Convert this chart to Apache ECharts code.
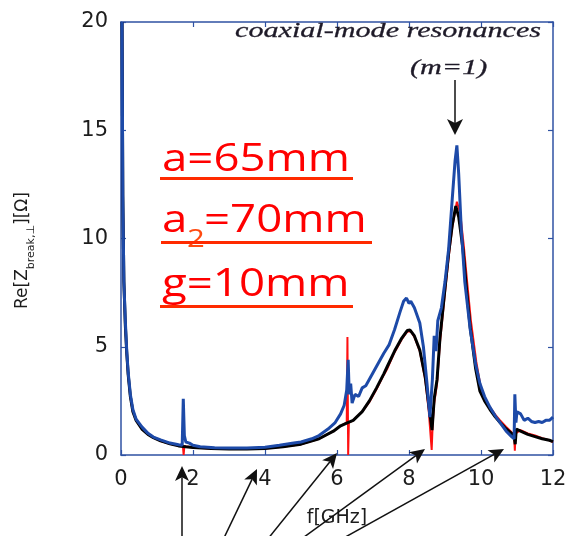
<!DOCTYPE html>
<html>
<head>
<meta charset="utf-8">
<script src="https://cdn.jsdelivr.net/npm/echarts@6/dist/echarts.min.js"></script>
<style>html,body{margin:0;padding:0;background:#fff}#c{width:565px;height:536px}</style>
</head>
<body>
<div id="c"></div>
<script>
// ---- data (f in GHz, Re[Z] in Ohm) ----
const blueF = [0.03,0.05,0.08,0.12,0.16,0.2,0.26,0.33,0.42,0.58,0.75,0.9,1.1,1.36,1.6,1.7,1.73,1.76,1.8,1.9,2.0,2.2,2.6,3.0,3.5,4.0,4.4,4.8,5.0,5.3,5.5,5.75,5.95,6.1,6.2,6.27,6.31,6.34,6.38,6.42,6.5,6.6,6.7,6.8,6.9,7.1,7.3,7.45,7.6,7.75,7.85,7.93,8.0,8.05,8.15,8.3,8.4,8.5,8.58,8.65,8.7,8.75,8.8,8.9,9.0,9.1,9.2,9.28,9.33,9.38,9.45,9.55,9.7,9.85,9.97,10.1,10.25,10.4,10.53,10.7,10.85,10.92,10.94,10.97,11.0,11.1,11.2,11.3,11.4,11.5,11.6,11.7,11.8,11.9,12.0];
const blueV = [20,12,8,6.2,4.8,3.8,2.8,2.1,1.65,1.3,1.0,0.83,0.7,0.55,0.47,0.45,2.6,0.9,0.6,0.55,0.45,0.38,0.34,0.32,0.32,0.36,0.45,0.55,0.6,0.75,0.9,1.2,1.5,1.9,2.3,3.0,4.4,2.8,3.3,2.4,2.8,2.7,3.1,3.2,3.5,4.1,4.7,5.1,5.8,6.6,7.1,7.25,7.0,7.1,6.8,6.1,5.0,3.3,1.75,3.5,5.5,4.8,6.2,6.8,8.0,9.5,11.8,13.6,14.3,13.0,10.5,8.0,5.8,4.2,3.3,2.7,2.2,1.8,1.5,1.1,0.85,0.75,2.8,1.5,2.0,1.9,1.6,1.7,1.55,1.5,1.55,1.5,1.6,1.6,1.75];

const blackF = [0.03,0.05,0.08,0.12,0.16,0.2,0.26,0.33,0.42,0.58,0.75,0.9,1.1,1.36,1.6,1.8,2.0,2.5,3.0,3.5,4.0,4.5,5.0,5.5,5.9,6.1,6.3,6.45,6.7,6.9,7.1,7.3,7.4,7.6,7.8,7.95,8.03,8.15,8.3,8.45,8.55,8.64,8.7,8.78,8.86,9.0,9.1,9.2,9.3,9.38,9.5,9.6,9.7,9.85,9.97,10.1,10.25,10.4,10.53,10.7,10.85,10.92,10.95,10.98,11.1,11.3,11.5,11.7,11.9,12.0];
const blackV = [20,12,8,6,4.7,3.7,2.7,2.0,1.6,1.2,0.95,0.8,0.65,0.52,0.42,0.38,0.35,0.3,0.28,0.28,0.3,0.38,0.5,0.75,1.1,1.35,1.5,1.6,2.0,2.5,3.1,3.75,4.1,4.8,5.4,5.75,5.77,5.5,4.85,3.6,2.3,1.15,2.6,3.5,5.4,7.7,9.3,10.6,11.5,11.0,9.5,7.6,5.9,4.0,2.95,2.5,2.1,1.75,1.5,1.2,1.0,0.85,0.5,1.2,1.1,0.95,0.85,0.75,0.68,0.62];

const redF = [0.03,0.05,0.08,0.12,0.16,0.2,0.26,0.33,0.42,0.58,0.75,0.9,1.1,1.36,1.6,1.72,1.74,1.76,2.0,2.5,3.0,3.5,4.0,4.5,5.0,5.5,5.9,6.1,6.27,6.29,6.31,6.33,6.45,6.7,6.9,7.1,7.3,7.4,7.6,7.8,7.95,8.05,8.15,8.3,8.45,8.55,8.63,8.66,8.7,8.78,8.86,9.0,9.1,9.2,9.33,9.42,9.52,9.62,9.72,9.87,9.99,10.1,10.25,10.4,10.53,10.7,10.85,10.92,10.94,10.96,11.1,11.3,11.5,11.7,11.9,12.0];
const redV = [20,12,8,6,4.7,3.7,2.7,2.0,1.6,1.2,0.95,0.8,0.65,0.52,0.43,0.4,0.0,0.4,0.35,0.3,0.28,0.28,0.3,0.38,0.5,0.75,1.1,1.35,1.5,5.45,0.0,1.5,1.6,2.0,2.45,3.05,3.7,4.0,4.75,5.35,5.7,5.72,5.45,4.8,3.5,2.0,0.23,1.5,2.4,3.3,5.2,7.5,9.1,10.5,11.7,11.2,9.7,7.9,6.2,4.3,3.15,2.6,2.2,1.85,1.6,1.3,1.05,0.95,0.2,1.0,1.15,1.0,0.9,0.78,0.68,0.6];

const xRange = [0, 12, 2];
const yRange = [0, 20, 5];
const xTitle = 'f[GHz]';
const annotations = ['coaxial-mode resonances', '(m=1)'];

const zip = (a, b) => a.map((v, i) => [v, b[i]]);

const chart = echarts.init(document.getElementById('c'), null, {renderer: 'canvas'});
const axisColor = '#2f52a3';
const labelFont = 'DejaVu Sans';

function arrow(x1, y1, x2, y2, head, half) {
  const dx = x2 - x1, dy = y2 - y1, L = Math.hypot(dx, dy);
  const ux = dx / L, uy = dy / L, nx = -uy, ny = ux;
  const bx = x2 - ux * head, by = y2 - uy * head;
  const kx = x2 - ux * head * 0.75, ky = y2 - uy * head * 0.75;
  return [
    {type: 'line', shape: {x1, y1, x2: kx, y2: ky}, style: {stroke: '#111', lineWidth: 1.5}, z: 100},
    {type: 'polygon', shape: {points: [[x2, y2], [bx + nx * half, by + ny * half], [kx, ky], [bx - nx * half, by - ny * half]]}, style: {fill: '#111'}, z: 100}
  ];
}

const red = '#ff0000';
const redU = '#ff2a00';
const redFont = 'Open Sans';
const rfs = 38;
const serif = 'italic 22px "Liberation Serif"';
const graphics = [
  {type: 'text', x: 235, y: 31, scaleX: 1.37, z: 100, style: {text: annotations[0], font: serif, fill: '#1e1a28', stroke: '#1e1a28', lineWidth: 0.3, verticalAlign: 'middle', align: 'left'}},
  {type: 'text', x: 410, y: 68, scaleX: 1.37, z: 100, style: {text: annotations[1], font: serif, fill: '#1e1a28', stroke: '#1e1a28', lineWidth: 0.3, verticalAlign: 'middle', align: 'left'}},
  ...arrow(455, 80, 455, 135, 16, 8),
  ...arrow(182, 540, 182, 466, 15, 7),
  ...arrow(223, 540, 257, 469, 15, 7),
  ...arrow(267, 540, 337, 453, 15, 7),
  ...arrow(300, 540, 425, 449, 15, 7),
  ...arrow(340, 540, 504, 449, 15, 7),
  // red parameter labels
  {type: 'text', x: 162, y: 160, scaleX: 1.2, z: 100, style: {text: 'a=65mm', font: rfs + 'px "' + redFont + '"', fill: red, verticalAlign: 'middle'}},
  {type: 'rect', shape: {x: 160, y: 177, width: 193, height: 3}, style: {fill: redU}, z: 100},
  {type: 'text', x: 162, y: 221, scaleX: 1.2, z: 100, style: {text: 'a', font: rfs + 'px "' + redFont + '"', fill: red, verticalAlign: 'middle'}},
  {type: 'text', x: 187, y: 240, scaleX: 1.2, z: 100, style: {text: '2', font: '26px "' + redFont + '"', fill: '#ff4a10', verticalAlign: 'middle'}},
  {type: 'text', x: 204, y: 221, scaleX: 1.2, z: 100, style: {text: '=70mm', font: rfs + 'px "' + redFont + '"', fill: red, verticalAlign: 'middle'}},
  {type: 'rect', shape: {x: 161, y: 241, width: 211, height: 3}, style: {fill: redU}, z: 100},
  {type: 'text', x: 162, y: 285, scaleX: 1.2, z: 100, style: {text: 'g=10mm', font: rfs + 'px "' + redFont + '"', fill: red, verticalAlign: 'middle'}},
  {type: 'rect', shape: {x: 160, y: 305, width: 193, height: 3}, style: {fill: redU}, z: 100}
];

const axisCommon = {
  axisLine: {show: true, onZero: false, lineStyle: {color: axisColor, width: 1.5}},
  axisTick: {show: true, inside: true, length: 5, lineStyle: {color: axisColor, width: 1.2}},
  splitLine: {show: false}
};

chart.setOption({
  animation: false,
  backgroundColor: '#fff',
  grid: {left: 121, top: 22, right: 12, bottom: 81, containLabel: false, outerBoundsMode: 'none'},
  xAxis: [
    Object.assign({}, axisCommon, {type: 'value', position: 'bottom', min: xRange[0], max: xRange[1], interval: xRange[2],
      axisLabel: {show: true, margin: 14, color: '#1c1c1c', fontSize: 21, fontFamily: labelFont},
      name: xTitle, nameLocation: 'middle', nameGap: 54, nameTextStyle: {color: '#1c1c1c', fontSize: 19, fontFamily: labelFont}}),
    Object.assign({}, axisCommon, {type: 'value', position: 'top', min: xRange[0], max: xRange[1], interval: xRange[2], axisLabel: {show: false}})
  ],
  yAxis: [
    Object.assign({}, axisCommon, {type: 'value', position: 'left', min: yRange[0], max: yRange[1], interval: yRange[2],
      axisLabel: {show: true, margin: 13, color: '#1c1c1c', fontSize: 21, fontFamily: labelFont},
      name: '{n|Re[Z}{s|break,⊥}{n|][Ω]}', nameLocation: 'middle', nameRotate: 90, nameGap: 84,
      nameTextStyle: {padding: [0, 24, 0, 0], rich: {
        n: {fontSize: 17, fontFamily: labelFont, color: '#1c1c1c', lineHeight: 28, verticalAlign: 'middle'},
        s: {fontSize: 11, fontFamily: labelFont, color: '#1c1c1c', lineHeight: 28, verticalAlign: 'bottom'}
      }}}),
    Object.assign({}, axisCommon, {type: 'value', position: 'right', min: yRange[0], max: yRange[1], interval: yRange[2], axisLabel: {show: false}})
  ],
  series: [
    {type: 'line', name: 'red', data: zip(redF, redV), showSymbol: false, lineStyle: {color: '#ff1010', width: 2}, z: 2},
    {type: 'line', name: 'black', data: zip(blackF, blackV), showSymbol: false, lineStyle: {color: '#000', width: 3}, z: 3},
    {type: 'line', name: 'blue', data: zip(blueF, blueV), showSymbol: false, lineStyle: {color: '#1d4aa8', width: 3}, z: 4}
  ],
  graphic: graphics
});
</script>
</body>
</html>
